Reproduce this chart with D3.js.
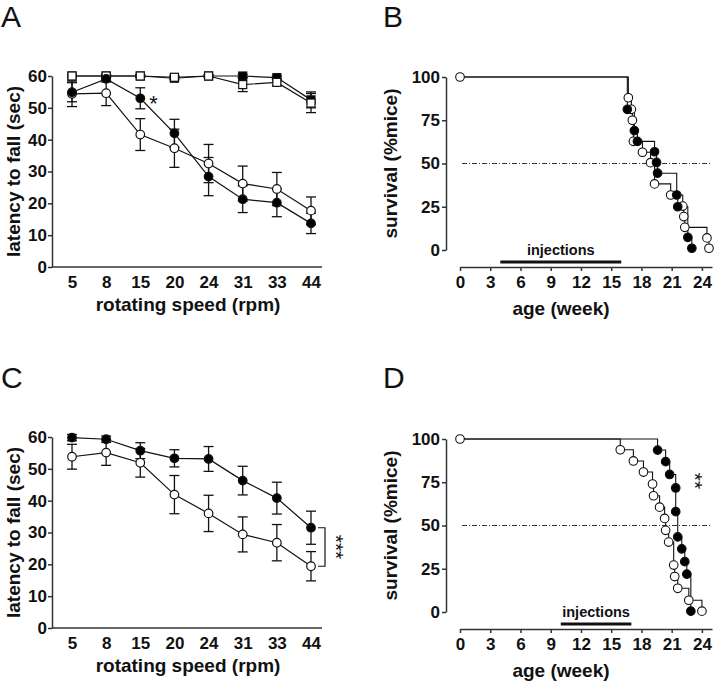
<!DOCTYPE html>
<html><head><meta charset="utf-8">
<script src="https://cdn.jsdelivr.net/npm/d3@7"></script>
<style>body{margin:0;background:#fff} svg{display:block}</style>
</head><body>
<script>
// ---------- DATA ----------
const speeds = ["5","8","15","20","24","31","33","44"];
const latencyTicks = [0,10,20,30,40,50,60];
const ageTicks = [0,3,6,9,12,15,18,21,24];
const survivalTicks = [0,25,50,75,100];

// Panel A
const aFilledCircle    = [54.9,59.1,53.0,42.0,28.4,21.3,20.2,13.7];
const aFilledCircleErr = [3.0,1.0,3.3,4.4,6.0,4.2,4.4,3.2];
const aOpenCircle      = [54.4,54.6,41.6,37.3,32.5,26.2,24.5,17.7];
const aOpenCircleErr   = [4.0,3.9,5.0,6.0,6.0,5.5,5.2,4.3];
const aFilledSquare    = [60,60,60,59.3,60,60,59.5,52.5];
const aFilledSquareErr = [0.4,0.4,0.4,0.5,0.4,0.5,0.5,2.5];
const aOpenSquare      = [60,60,60,59.6,60,57.3,58.0,51.5];
const aOpenSquareErr   = [0.4,0.4,0.4,0.5,0.4,2.2,1.0,3.0];

// Panel C
const cFilled    = [59.8,59.3,55.7,53.3,53.1,46.3,40.8,31.5];
const cFilledErr = [1.0,1.0,2.5,2.7,3.9,4.5,5.0,5.2];
const cOpen      = [53.8,55.1,51.9,41.9,36.0,29.4,26.8,19.4];
const cOpenErr   = [3.9,4.0,4.5,6.0,5.7,5.5,5.7,4.6];

// Panel B (Kaplan-Meier, week, % surviving)
const bOpenWeek     = [0,16.7,17.0,17.1,17.2,18.1,18.9,19.3,20.9,22.1,22.2,22.3,24.5,24.7];
const bOpenSurv     = [100,88,81.3,75,62.8,56.5,50.5,38.2,31.8,25.4,19.3,13.1,7,1];
const bFilledWeek   = [0,16.6,17.3,17.6,19.3,19.5,19.6,21.5,21.6,22.6,23.0];
const bFilledSurv   = [100,81.3,69,62.8,56.8,50.6,44.4,31.8,25,7.3,1];
const bInjections   = [4,16];

// Panel D
const dOpenWeek     = [0,15.9,17.2,18.2,19.1,19.2,19.8,20.3,20.4,20.7,21.2,21.3,21.6,22.7,24.0];
const dOpenSurv     = [100,93.8,87.3,80.9,74,67.2,60.6,54.1,47.2,40.4,27.1,20.5,13.7,6.8,0.5];
const dFilledWeek   = [0,19.6,20.4,20.8,21.4,21.4,21.6,22.0,22.3,22.5,22.9];
const dFilledSurv   = [100,93.6,86.9,79.5,71.7,58,43.4,36.5,29.1,21.9,0.5];
const dInjections   = [10,17];

// ---------- DRAW ----------
const W = 720, H = 682;
const svg = d3.select("body").append("svg").attr("width", W).attr("height", H)
  .style("font-family", "'Liberation Sans', Arial, sans-serif");
const INK = "#111";
const AX = "#333";

function panelLetter(t, x, y) {
  svg.append("text").attr("x", x).attr("y", y).text(t)
    .attr("font-size", 30).attr("fill", INK);
}

function styleAxis(g) {
  g.selectAll("path, line").attr("stroke", AX).attr("stroke-width", 1.5);
  g.selectAll("text").attr("font-size", 17).attr("font-weight", "bold").attr("fill", INK)
    .attr("font-family", "'Liberation Sans', Arial, sans-serif");
}

function rotarodPanel(cfg) {
  const x = d3.scalePoint().domain(speeds).range([72, 311]);
  const y = d3.scaleLinear().domain([0, 60]).range([cfg.y0, cfg.y0 - 191]);
  const g = svg.append("g");
  const ya = g.append("g").attr("transform", "translate(52,0)")
    .call(d3.axisLeft(y).tickValues(latencyTicks).tickSize(4).tickPadding(1).tickSizeOuter(0));
  styleAxis(ya);
  const xa = g.append("g").attr("transform", `translate(0,${y(0)})`)
    .call(d3.axisBottom(x).tickSize(0).tickPadding(9));
  xa.select(".domain").remove();
  styleAxis(xa);
  g.append("line").attr("x1", 52).attr("x2", 322).attr("y1", y(0)).attr("y2", y(0))
    .attr("stroke", AX).attr("stroke-width", 1.5);
  g.append("text").attr("x", 188).attr("y", y(0) + 44).attr("text-anchor", "middle")
    .attr("font-size", 19).attr("font-weight", "bold").attr("fill", INK).text("rotating speed (rpm)");
  g.append("text").attr("transform", `translate(20,${y(30)}) rotate(-90)`).attr("text-anchor", "middle")
    .attr("font-size", 19).attr("font-weight", "bold").attr("fill", INK).text("latency to fall (sec)");

  const line = d3.line().x((d, i) => x(speeds[i])).y(d => y(d));
  cfg.series.forEach(s => {
    g.append("path").datum(s.v).attr("d", line).attr("fill", "none")
      .attr("stroke", INK).attr("stroke-width", 1.2);
  });
  cfg.series.forEach(s => {
    s.v.forEach((v, i) => {
      const cx = x(speeds[i]), e = s.e[i];
      const eg = g.append("g").attr("stroke", INK).attr("stroke-width", 1.3);
      eg.append("line").attr("x1", cx).attr("x2", cx).attr("y1", y(v - e)).attr("y2", y(v + e));
      eg.append("line").attr("x1", cx - 5).attr("x2", cx + 5).attr("y1", y(v - e)).attr("y2", y(v - e));
      eg.append("line").attr("x1", cx - 5).attr("x2", cx + 5).attr("y1", y(v + e)).attr("y2", y(v + e));
    });
  });
  cfg.series.forEach(s => {
    s.v.forEach((v, i) => {
      const cx = x(speeds[i]);
      if (s.shape === "square") {
        g.append("rect").attr("x", cx - 4).attr("y", y(v) - 4).attr("width", 8).attr("height", 8)
          .attr("fill", s.fill).attr("stroke", INK).attr("stroke-width", 1.2);
      } else {
        g.append("circle").attr("cx", cx).attr("cy", y(v)).attr("r", 4.3)
          .attr("fill", s.fill).attr("stroke", INK).attr("stroke-width", 1.2);
      }
    });
  });
  return {g, x, y};
}

function survivalPanel(cfg) {
  const x = d3.scaleLinear().domain([0, 25]).range([460, 712]);
  const y = d3.scaleLinear().domain([0, 100]).range([cfg.y0, cfg.y0 - 173]);
  const axY = cfg.y0 + 17;
  const g = svg.append("g");
  const ya = g.append("g").attr("transform", "translate(446,0)")
    .call(d3.axisLeft(y).tickValues(survivalTicks).tickSize(4).tickPadding(2).tickSizeOuter(0));
  styleAxis(ya);
  const xa = g.append("g").attr("transform", `translate(0,${axY})`)
    .call(d3.axisBottom(x).tickValues(ageTicks).tickSize(4).tickPadding(5).tickSizeOuter(0));
  styleAxis(xa);
  g.append("text").attr("x", 561).attr("y", axY + 48).attr("text-anchor", "middle")
    .attr("font-size", 19).attr("font-weight", "bold").attr("fill", INK).text("age (week)");
  g.append("text").attr("transform", `translate(397,${y(50)}) rotate(-90)`).attr("text-anchor", "middle")
    .attr("font-size", 19).attr("font-weight", "bold").attr("fill", INK).text("survival (%mice)");
  g.append("line").attr("x1", x(0.2)).attr("x2", x(25)).attr("y1", y(50)).attr("y2", y(50))
    .attr("stroke", "#333").attr("stroke-width", 1).attr("stroke-dasharray", "5,2,1,2");
  g.append("line").attr("x1", x(cfg.inj[0])).attr("x2", x(cfg.inj[1]))
    .attr("y1", axY - 5).attr("y2", axY - 5).attr("stroke", INK).attr("stroke-width", 3);
  g.append("text").attr("x", (x(cfg.inj[0]) + x(cfg.inj[1])) / 2).attr("y", axY - 12)
    .attr("text-anchor", "middle").attr("font-size", 14.5).attr("font-weight", "bold")
    .attr("fill", INK).text("injections");

  const step = d3.line().curve(d3.curveStepAfter).x(d => x(d[0])).y(d => y(d[1]));
  const groups = cfg.series.map(s => s.t.map((t, i) => [t, s.s[i]]));
  groups.forEach(pts => {
    g.append("path").datum(pts).attr("d", step).attr("fill", "none")
      .attr("stroke", INK).attr("stroke-width", 1.1);
  });
  cfg.series.forEach((s, k) => {
    groups[k].forEach((p, i) => {
      if (s.fill === "#000" && i === 0) return;
      g.append("circle").attr("cx", x(p[0])).attr("cy", y(p[1])).attr("r", 4.3)
        .attr("fill", s.fill).attr("stroke", INK).attr("stroke-width", 1.1);
    });
  });
  return {g, x, y};
}

// Panel A
panelLetter("A", 1, 27);
const A = rotarodPanel({y0: 267, series: [
  {v: aFilledSquare, e: aFilledSquareErr, fill: "#000", shape: "square"},
  {v: aOpenSquare, e: aOpenSquareErr, fill: "#fff", shape: "square"},
  {v: aOpenCircle, e: aOpenCircleErr, fill: "#fff", shape: "circle"},
  {v: aFilledCircle, e: aFilledCircleErr, fill: "#000", shape: "circle"}
]});
A.g.append("text").attr("x", A.x("15") + 9).attr("y", A.y(53) + 13).attr("font-size", 22)
  .attr("fill", INK).text("*");

// Panel C
panelLetter("C", 1, 388);
const C = rotarodPanel({y0: 628, series: [
  {v: cOpen, e: cOpenErr, fill: "#fff", shape: "circle"},
  {v: cFilled, e: cFilledErr, fill: "#000", shape: "circle"}
]});
{
  const xr = C.x("44");
  const y1 = C.y(cFilled[7]), y2 = C.y(cOpen[7]);
  C.g.append("path").attr("d", `M${xr + 7},${y1} H${xr + 14} V${y2} H${xr + 7}`)
    .attr("fill", "none").attr("stroke", INK).attr("stroke-width", 1.2);
  C.g.append("text").attr("transform", `translate(${xr + 18},${(y1 + y2) / 2}) rotate(90)`)
    .attr("text-anchor", "middle").attr("font-size", 21).attr("fill", INK).text("***");
}

// Panel B
panelLetter("B", 383, 27);
survivalPanel({y0: 250, inj: bInjections, series: [
  {t: bOpenWeek, s: bOpenSurv, fill: "#fff"},
  {t: bFilledWeek, s: bFilledSurv, fill: "#000"}
]});

// Panel D
panelLetter("D", 383, 388);
const D = survivalPanel({y0: 612, inj: dInjections, series: [
  {t: dOpenWeek, s: dOpenSurv, fill: "#fff"},
  {t: dFilledWeek, s: dFilledSurv, fill: "#000"}
]});
D.g.append("text").attr("transform", "translate(688,481) rotate(90)")
  .attr("text-anchor", "middle").attr("font-size", 21).attr("fill", INK).text("**");
</script>
</body></html>
